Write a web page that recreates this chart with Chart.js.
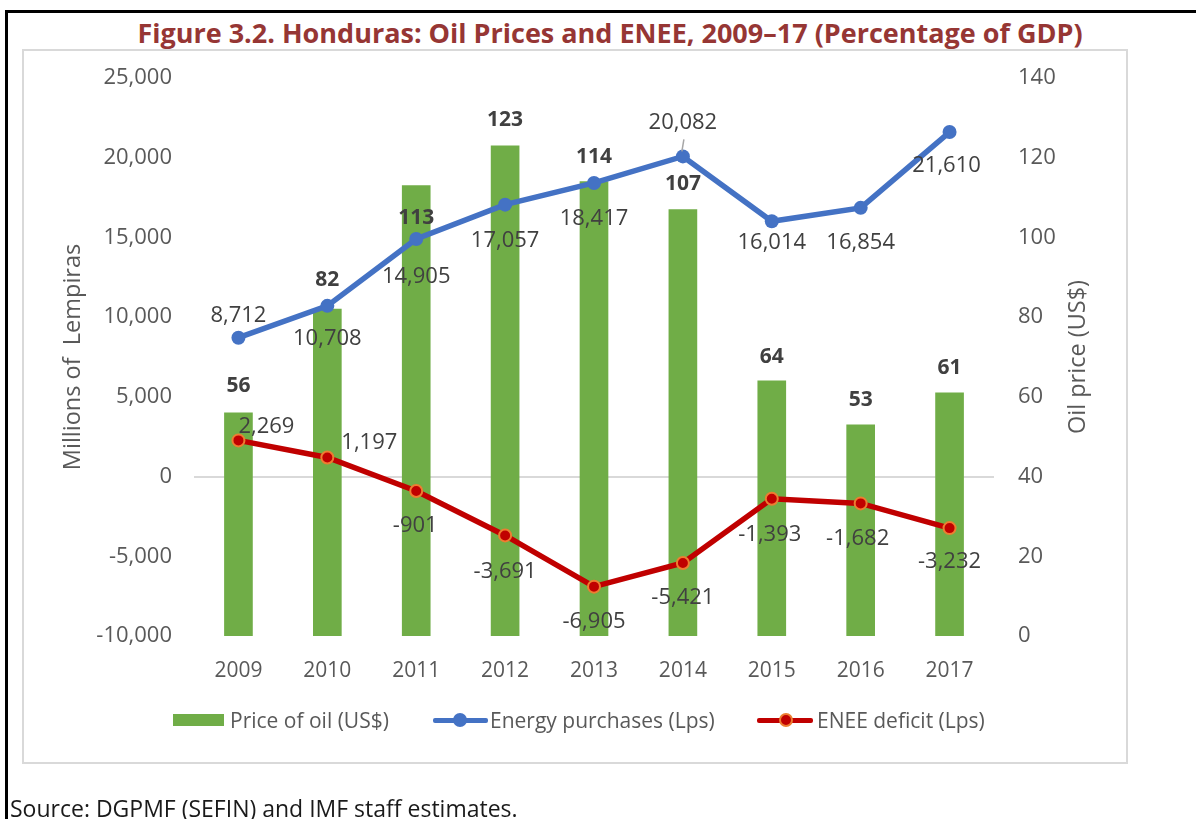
<!DOCTYPE html>
<html>
<head>
<meta charset="utf-8">
<script src="https://cdn.jsdelivr.net/npm/chart.js@4.4.0/dist/chart.umd.min.js"></script>
<style>
  html, body { margin: 0; padding: 0; background: #fff; }
  body { width: 1196px; height: 819px; position: relative; overflow: hidden; font-family: "Open Sans", sans-serif; }
  .outer { position: absolute; left: 5px; top: 10px; width: 1300px; height: 900px; border-left: 3px solid #000; border-top: 3px solid #000; }
  .inner { position: absolute; left: 22px; top: 49px; width: 1102px; height: 711px; border: 2px solid #d9d9d9; }
  .title { position: absolute; left: 0; top: 17px; width: 1220px; text-align: center; line-height: 32px;
           font-weight: bold; font-size: 27px; color: #963634; white-space: nowrap; }
  #chart { position: absolute; left: 0; top: 0; }
  .legend { position: absolute; top: 706px; height: 28px; line-height: 28px; font-size: 21px; color: #595959; white-space: nowrap; }
  .swatch { position: absolute; }
  .source { position: absolute; left: 10px; top: 793px; font-size: 23px; color: #1a1a1a; white-space: nowrap; line-height: 30px; }
</style>
</head>
<body>
<div class="outer"></div>
<div class="inner"></div>
<div class="title">Figure 3.2. Honduras: Oil Prices and ENEE, 2009–17 (Percentage of GDP)</div>
<canvas id="chart" width="1196" height="819"></canvas>

<div class="swatch" style="left:173px;top:714px;width:51px;height:12px;background:#70AD47"></div>
<div class="legend" style="left:230px">Price of oil (US$)</div>
<div class="swatch" style="left:433px;top:718px;width:55px;height:5px;background:#4472C4;border-radius:2px"></div>
<div class="swatch" style="left:453px;top:713px;width:14px;height:14px;border-radius:50%;background:#4472C4"></div>
<div class="legend" style="left:490px">Energy purchases (Lps)</div>
<div class="swatch" style="left:757px;top:718px;width:56px;height:5px;background:#C00000;border-radius:2px"></div>
<div class="swatch" style="left:779px;top:713px;width:10px;height:10px;border-radius:50%;background:#C00000;border:2px solid #ED7D31"></div>
<div class="legend" style="left:817px">ENEE deficit (Lps)</div>

<div class="source">Source: DGPMF (SEFIN) and IMF staff estimates.</div>

<script>
const years = ["2009", "2010", "2011", "2012", "2013", "2014", "2015", "2016", "2017"];
const oilPrice = [56, 82, 113, 123, 114, 107, 64, 53, 61];
const energyPurchases = [8712, 10708, 14905, 17057, 18417, 20082, 16014, 16854, 21610];
const eneeDeficit = [2269, 1197, -901, -3691, -6905, -5421, -1393, -1682, -3232];
const lempiraTicks = [-10000, -5000, 0, 5000, 10000, 15000, 20000, 25000];
const oilTicks = [0, 20, 40, 60, 80, 100, 120, 140];

// where each value label sits relative to its point, in px [dx, dy]
const labelOffsets = {
  oil: [[0, -27], [0, -29], [0, 32], [0, -26], [0, -25], [0, -26], [0, -24], [0, -25], [0, -25]],
  energy: [[0, -22], [0, 33], [0, 38], [0, 36], [0, 36], [0, -34], [0, 21], [0, 35], [-3, 34]],
  deficit: [[28, -14], [42, -15], [-1, 35], [0, 36], [0, 35], [0, 35], [-2, 36], [-3, 35], [0, 34]]
};

const fmt = (v) => v.toLocaleString("en-US");
const tickFont = { family: "Open Sans", size: 22 };
const titleFont = { family: "Open Sans", size: 23.5 };

const valueLabels = {
  id: "valueLabels",
  afterDatasetsDraw(chart) {
    const ctx = chart.ctx;
    ctx.save();
    ctx.textAlign = "center";
    ctx.textBaseline = "middle";
    ctx.fillStyle = "#404040";

    // leader line on the 2014 energy label
    const p = chart.getDatasetMeta(0).data[5];
    ctx.strokeStyle = "#a6a6a6";
    ctx.lineWidth = 1.5;
    ctx.beginPath();
    ctx.moveTo(p.x + 1, p.y - 17);
    ctx.lineTo(p.x - 1, p.y - 5);
    ctx.stroke();

    chart.data.datasets.forEach((ds, i) => {
      const meta = chart.getDatasetMeta(i);
      const offs = labelOffsets[ds.key];
      ctx.font = ds.type === "bar" ? 'bold 21px "Open Sans"' : '22px "Open Sans"';
      meta.data.forEach((el, j) => {
        ctx.fillText(fmt(ds.data[j]), el.x + offs[j][0], el.y + offs[j][1]);
      });
    });
    ctx.restore();
  },
  afterDraw(chart) {
    // right axis title reads bottom to top
    const ctx = chart.ctx;
    const s = chart.scales.y1;
    ctx.save();
    ctx.translate(1078, (s.top + s.bottom) / 2);
    ctx.rotate(-Math.PI / 2);
    ctx.textAlign = "center";
    ctx.textBaseline = "middle";
    ctx.fillStyle = "#595959";
    ctx.font = '23.5px "Open Sans"';
    ctx.fillText("Oil price (US$)", 0, 0);
    ctx.restore();
  }
};

new Chart(document.getElementById("chart"), {
  data: {
    labels: years,
    datasets: [
      {
        type: "line", key: "energy", label: "Energy purchases (Lps)",
        data: energyPurchases, yAxisID: "y",
        borderColor: "#4472C4", backgroundColor: "#4472C4", borderWidth: 5.5,
        pointRadius: 7, pointBorderWidth: 0, pointBackgroundColor: "#4472C4",
        order: 1
      },
      {
        type: "line", key: "deficit", label: "ENEE deficit (Lps)",
        data: eneeDeficit, yAxisID: "y",
        borderColor: "#C00000", backgroundColor: "#C00000", borderWidth: 5.5,
        pointRadius: 6, pointBorderWidth: 2,
        pointBackgroundColor: "#C00000", pointBorderColor: "#ED7D31",
        order: 2
      },
      {
        type: "bar", key: "oil", label: "Price of oil (US$)",
        data: oilPrice, yAxisID: "y1",
        backgroundColor: "#70AD47", barThickness: 28,
        order: 3
      }
    ]
  },
  options: {
    responsive: false,
    animation: false,
    layout: { padding: { top: 78, left: 0, right: 0, bottom: 0 } },
    plugins: { legend: { display: false }, tooltip: { enabled: false } },
    scales: {
      x: {
        grid: { display: false, drawTicks: false },
        border: { display: false },
        ticks: { padding: 22, color: "#595959", font: { family: "Open Sans", size: 21 } },
        afterFit: (s) => { s.height = 183; }
      },
      y: {
        position: "left",
        min: -10000, max: 25000,
        afterBuildTicks: (s) => { s.ticks = lempiraTicks.map((v) => ({ value: v })); },
        grid: {
          drawTicks: false, lineWidth: 2,
          color: (c) => (c.tick && c.tick.value === 0 ? "#d9d9d9" : "rgba(0,0,0,0)")
        },
        border: { display: false },
        ticks: { padding: 22, color: "#595959", font: tickFont, callback: (v) => fmt(v) },
        title: { display: true, text: "Millions of  Lempiras", color: "#595959", font: titleFont, padding: { top: 59, bottom: 0 } },
        afterFit: (s) => { s.width = 194; }
      },
      y1: {
        position: "right",
        min: 0, max: 140,
        afterBuildTicks: (s) => { s.ticks = oilTicks.map((v) => ({ value: v })); },
        grid: { display: false, drawTicks: false },
        border: { display: false },
        ticks: { padding: 24, color: "#595959", font: tickFont },
        afterFit: (s) => { s.width = 202; }
      }
    }
  },
  plugins: [valueLabels]
});
</script>
</body>
</html>
